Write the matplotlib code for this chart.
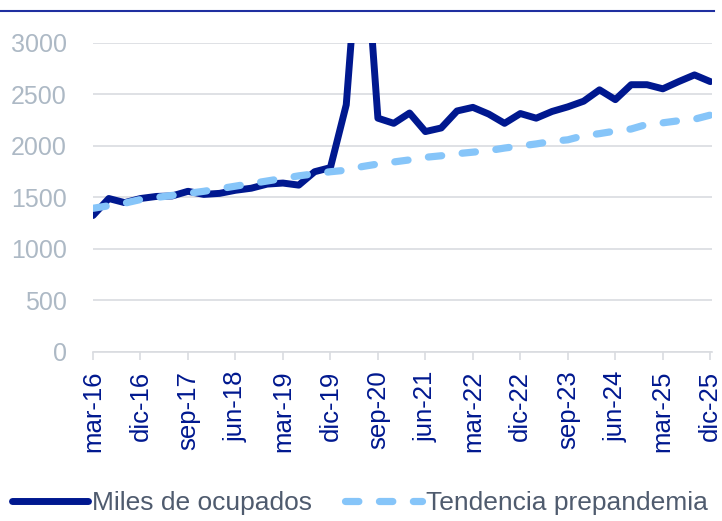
import matplotlib
matplotlib.use("Agg")
import matplotlib.pyplot as plt
from matplotlib.lines import Line2D

plt.rcParams["font.family"] = ["Liberation Sans", "DejaVu Sans"]

# quarterly periods, mar-16 .. dic-25
meses = ["mar", "jun", "sep", "dic"]
periodos = [f"{m}-{a:02d}" for a in range(16, 26) for m in meses]

# thousands of employed
ocupados = [1325, 1490, 1450, 1490, 1510, 1515, 1560, 1530, 1540, 1570,
            1590, 1630, 1640, 1620, 1750, 1790, 2400, 4400, 2270, 2220,
            2320, 2140, 2175, 2340, 2375, 2310, 2220, 2315, 2270, 2335,
            2380, 2435, 2545, 2450, 2595, 2595, 2555, 2625, 2690, 2625]

# pre-pandemic trend
tendencia = [1395, 1420, 1445, 1480, 1500, 1520, 1540, 1560, 1585, 1610,
             1635, 1660, 1685, 1710, 1730, 1750, 1765, 1800, 1825, 1845,
             1865, 1890, 1905, 1925, 1940, 1955, 1980, 2000, 2020, 2045,
             2060, 2100, 2120, 2145, 2165, 2210, 2225, 2245, 2260, 2300]

yticks = [0, 500, 1000, 1500, 2000, 2500, 3000]

NAVY = "#00188f"
LIGHT = "#86c5f9"
GRID = "#d9dbe0"
YLAB = "#adb9c5"
LEG = "#4f5b6e"

fig = plt.figure(figsize=(7.22, 5.21), dpi=100)
ax = fig.add_axes([0.1288, 0.3244, 0.8572, 0.5931])

x = list(range(len(periodos)))
ax.plot(x, ocupados, color=NAVY, lw=5, solid_capstyle="round",
        solid_joinstyle="round", label="Miles de ocupados", zorder=3)
ax.plot(x, tendencia, color=LIGHT, lw=5.2, dashes=(1.85, 2.85),
        dash_capstyle="round", label="Tendencia prepandemia", zorder=4)

ax.set_ylim(0, 3000)
ax.set_xlim(0, 39.1)
ax.set_yticks(yticks)
ax.grid(axis="y", color=GRID, lw=1.2)
ax.set_axisbelow(True)

ax.set_xticks(x[::3])
ax.set_xticklabels(periodos[::3], rotation=90, color=NAVY, fontsize=18.5)
ax.tick_params(axis="x", direction="out", length=6, color=GRID, width=1.2, pad=7.5)
ax.tick_params(axis="y", length=0, labelsize=18, labelcolor=YLAB, pad=19)

for s in ("top", "right", "left"):
    ax.spines[s].set_visible(False)
ax.spines["bottom"].set_color(GRID)
ax.spines["bottom"].set_linewidth(1.2)

leg = ax.legend(loc="center left", bbox_to_anchor=(-0.131, -0.489), ncol=2,
                frameon=False, fontsize=19, handlelength=2.9,
                handletextpad=0.15, columnspacing=1.25, borderpad=0,
                borderaxespad=0)
for t in leg.get_texts():
    t.set_color(LEG)

# thin rule along the top
fig.add_artist(Line2D([0, 0.989], [1 - 11 / 521, 1 - 11 / 521],
                      transform=fig.transFigure, color="#1f2fa0", lw=1.5))

fig.savefig("out.png", dpi=100)
